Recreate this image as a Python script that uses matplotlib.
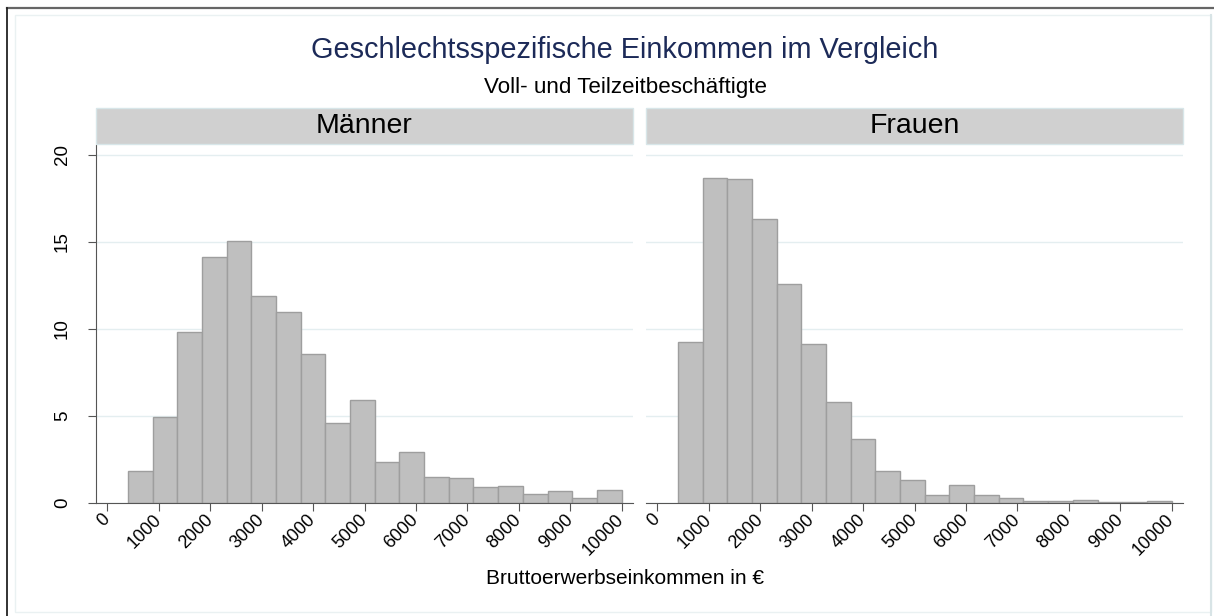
import matplotlib
matplotlib.use("Agg")
import matplotlib.pyplot as plt
from matplotlib.lines import Line2D
from matplotlib.patches import Rectangle

plt.rcParams["font.family"] = ["Liberation Sans", "DejaVu Sans"]

# === Daten (Prozent je Einkommensklasse) ===
bin_start = 400
bin_width = 480
maenner = [1.81, 4.96, 9.85, 14.14, 15.04, 11.89, 10.99, 8.55, 4.62, 5.92,
           2.38, 2.92, 1.52, 1.44, 0.94, 0.98, 0.52, 0.67, 0.29, 0.73]
frauen = [9.24, 18.69, 18.63, 16.34, 12.59, 9.13, 5.83, 3.65, 1.83, 1.31,
          0.44, 1.04, 0.44, 0.29, 0.10, 0.10, 0.17, 0.06, 0.06, 0.13]
panels = ["Männer", "Frauen"]
x_ticks = list(range(0, 10001, 1000))
y_ticks = [0, 5, 10, 15, 20]

title = "Geschlechtsspezifische Einkommen im Vergleich"
subtitle = "Voll- und Teilzeitbeschäftigte"
xlabel = "Bruttoerwerbseinkommen in €"

W, H = 1214, 616
fig = plt.figure(figsize=(W / 100, H / 100), dpi=100)


def px(x0, y0, x1, y1):
    # pixel box (top-left origin) -> figure fraction [l, b, w, h]
    return [x0 / W, 1 - y1 / H, (x1 - x0) / W, (y1 - y0) / H]


axis_col = "#555555"
lefts = [96, 646]
panel_w = 537
cx = 625 / W  # Textmitte wie im Original

for i, (name, vals) in enumerate(zip(panels, [maenner, frauen])):
    x0 = lefts[i]
    ax = fig.add_axes(px(x0, 145, x0 + panel_w, 503))
    edges = [bin_start + k * bin_width for k in range(len(vals))]
    ax.bar(edges, vals, width=bin_width, align="edge",
           color="#bfbfbf", edgecolor="#9e9e9e", linewidth=1.0, zorder=2)
    ax.set_xlim(-223, 10223)
    ax.set_ylim(0, 20.57)
    ax.set_yticks(y_ticks)
    ax.yaxis.grid(True, color="#e4eef0", linewidth=1.0, zorder=0)
    ax.set_axisbelow(True)
    for s in ["top", "right"]:
        ax.spines[s].set_visible(False)
    ax.spines["bottom"].set_color(axis_col)
    ax.spines["left"].set_color(axis_col)
    ax.set_xticks(x_ticks)
    ax.set_xticklabels([str(t) for t in x_ticks], rotation=45, ha="right",
                       va="center", rotation_mode="anchor", fontsize=13)
    ax.tick_params(axis="x", length=6, color=axis_col, pad=4)
    if i == 0:
        ax.set_yticklabels([str(t) for t in y_ticks], rotation=90,
                           va="center", fontsize=13.5)
        ax.tick_params(axis="y", length=6, color=axis_col, pad=12)
    else:
        ax.spines["left"].set_visible(False)
        ax.tick_params(axis="y", length=0, labelleft=False)

    # Streifen mit Panelname
    strip = Rectangle((x0 / W, 1 - 144 / H), panel_w / W, 36 / H,
                      transform=fig.transFigure, facecolor="#d0d0d0",
                      edgecolor="#d8e6e9", linewidth=1.0)
    fig.add_artist(strip)
    fig.text((x0 + panel_w / 2) / W, 1 - 126 / H, name, ha="center",
             va="center", fontsize=20.5)

fig.text(cx, 1 - 50 / H, title, ha="center", va="center", fontsize=20.8,
         color="#1c2a58")
fig.text(cx, 1 - 88 / H, subtitle, ha="center", va="center", fontsize=16.1)
fig.text(cx, 1 - 578 / H, xlabel, ha="center", va="center", fontsize=15)

# === Rahmen ===
fig.add_artist(Rectangle((15 / W, 1 - 612 / H), 1196 / W, 597 / H,
                         transform=fig.transFigure, facecolor="none",
                         edgecolor="#eaf1f2", linewidth=1.0))
fig.add_artist(Line2D([1211 / W, 1211 / W], [0, 1 - 15 / H], color="#d8e4e6",
                      linewidth=1.5, transform=fig.transFigure))
fig.add_artist(Line2D([7 / W, 1], [1 - 8 / H, 1 - 8 / H], color="#666666",
                      linewidth=1.6, transform=fig.transFigure))
fig.add_artist(Line2D([7 / W, 7 / W], [0, 1 - 8 / H], color="#222222",
                      linewidth=1.3, transform=fig.transFigure))

fig.savefig("out.png", dpi=100)
